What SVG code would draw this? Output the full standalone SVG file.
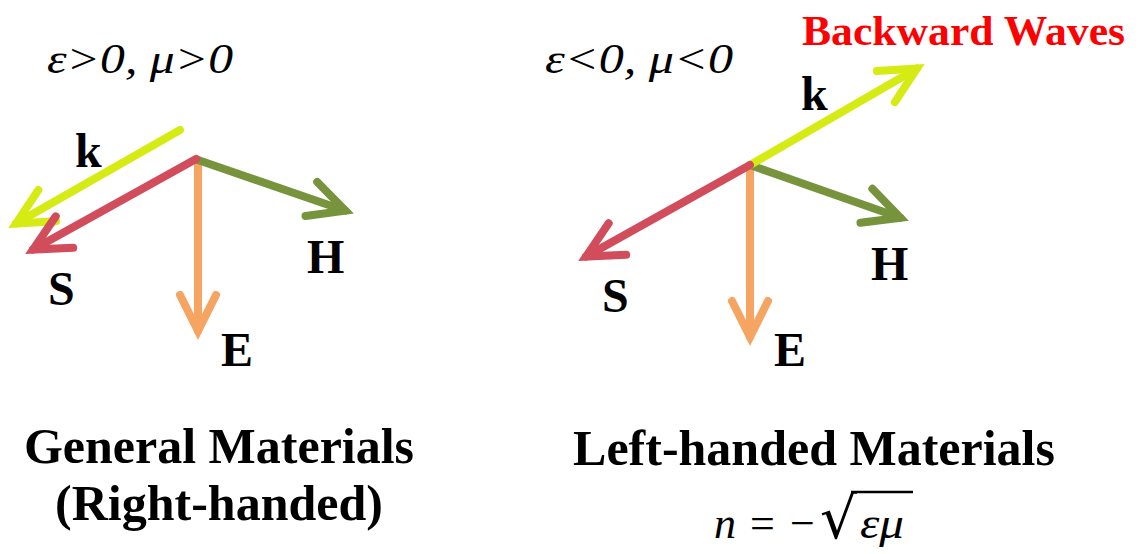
<svg xmlns="http://www.w3.org/2000/svg" width="1141" height="554" viewBox="0 0 1141 554">
<style>
.lbl{font-family:"Liberation Serif","Times New Roman",serif;font-weight:bold;font-size:48px;fill:#000}
.title{font-family:"Liberation Serif","Times New Roman",serif;font-weight:bold;font-size:50px;fill:#000;text-anchor:middle}
.cond{font-family:"Liberation Serif","Times New Roman",serif;font-style:italic;font-size:42px;fill:#000}
.math{font-family:"Liberation Serif","Times New Roman",serif;font-size:44px;fill:#000}
.ar{fill:none;stroke-width:8;stroke-linecap:round}
.y{stroke:#d6eb13}.r{stroke:#d24d5c}.o{stroke:#f5a462}.g{stroke:#77933c}
</style>
<defs>
<marker id="my" markerUnits="userSpaceOnUse" orient="auto" overflow="visible" markerWidth="1" markerHeight="1"><path d="M-36,-18 L0,0 L-36,18" fill="none" stroke="#d6eb13" stroke-width="8" stroke-linecap="round" stroke-linejoin="miter"/></marker>
<marker id="mr" markerUnits="userSpaceOnUse" orient="auto" overflow="visible" markerWidth="1" markerHeight="1"><path d="M-36,-18 L0,0 L-36,18" fill="none" stroke="#d24d5c" stroke-width="8" stroke-linecap="round" stroke-linejoin="miter"/></marker>
<marker id="mo" markerUnits="userSpaceOnUse" orient="auto" overflow="visible" markerWidth="1" markerHeight="1"><path d="M-36,-18 L0,0 L-36,18" fill="none" stroke="#f5a462" stroke-width="8" stroke-linecap="round" stroke-linejoin="miter"/></marker>
<marker id="mg" markerUnits="userSpaceOnUse" orient="auto" overflow="visible" markerWidth="1" markerHeight="1"><path d="M-36,-18 L0,0 L-36,18" fill="none" stroke="#77933c" stroke-width="8" stroke-linecap="round" stroke-linejoin="miter"/></marker>
</defs>
<rect width="1141" height="554" fill="#fff"/>
<g id="connectors">
  <line id="left-E" class="ar o" x1="198" y1="160" x2="198" y2="331" marker-end="url(#mo)"/>
  <line id="left-H" class="ar g" x1="198" y1="160" x2="345.4" y2="210.7" marker-end="url(#mg)"/>
  <line id="left-k" class="ar y" x1="180" y1="130" x2="16" y2="223.5" marker-end="url(#my)"/>
  <line id="left-S" class="ar r" x1="196" y1="159" x2="33" y2="249.6" marker-end="url(#mr)"/>
  <line id="right-E" class="ar o" x1="750" y1="165" x2="750" y2="337" marker-end="url(#mo)"/>
  <line id="right-H" class="ar g" x1="750" y1="165" x2="900.4" y2="217.7" marker-end="url(#mg)"/>
  <line id="right-k" class="ar y" x1="750" y1="165" x2="917" y2="68.5" marker-end="url(#my)"/>
  <line id="right-S" class="ar r" x1="750" y1="165" x2="586" y2="256.6" marker-end="url(#mr)"/>
</g>
<g id="left-labels">
  <text class="cond" x="47" y="73" textLength="186" lengthAdjust="spacingAndGlyphs">ε&gt;0, μ&gt;0</text>
  <text class="lbl" x="75" y="167">k</text>
  <text class="lbl" x="48" y="305">S</text>
  <text class="lbl" x="307" y="273">H</text>
  <text class="lbl" x="221" y="366">E</text>
</g>
<g id="right-labels">
  <text class="cond" x="545" y="73" textLength="188" lengthAdjust="spacingAndGlyphs">ε&lt;0, μ&lt;0</text>
  <text x="802" y="45" font-family="Liberation Serif, Times New Roman, serif" font-weight="bold" font-size="42" fill="#ff0000" textLength="323" lengthAdjust="spacingAndGlyphs">Backward Waves</text>
  <text class="lbl" x="801" y="110">k</text>
  <text class="lbl" x="602" y="312">S</text>
  <text class="lbl" x="871" y="280">H</text>
  <text class="lbl" x="774" y="366">E</text>
</g>
<g id="captions">
  <text class="title" x="219" y="463">General Materials</text>
  <text class="title" x="219" y="520">(Right-handed)</text>
  <text class="title" x="814" y="465">Left-handed Materials</text>
</g>
<g id="formula">
  <text class="math" x="714" y="538" font-style="italic">n</text>
  <text class="math" x="750" y="538">=</text>
  <text class="math" x="790" y="538">−</text>
  <text x="820" y="538" font-family="DejaVu Serif, serif" font-size="58" fill="#000">√</text>
  <line x1="851" y1="492" x2="913" y2="492" stroke="#000" stroke-width="2.5"/>
  <text class="math" x="860" y="538" font-style="italic" textLength="44" lengthAdjust="spacingAndGlyphs">εμ</text>
</g>
</svg>
